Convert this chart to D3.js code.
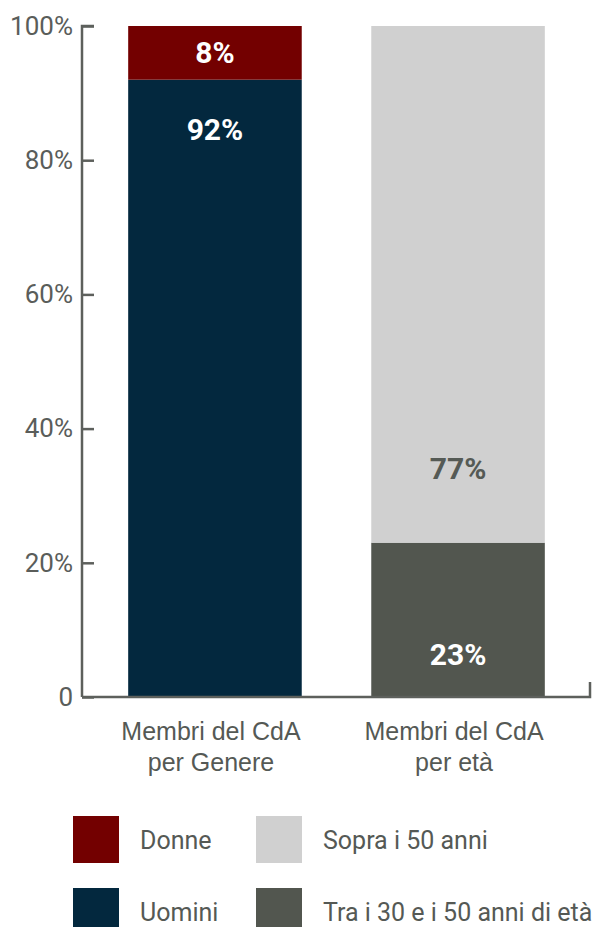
<!DOCTYPE html>
<html>
<head>
<meta charset="utf-8">
<script src="https://cdn.jsdelivr.net/npm/d3@7"></script>
<style>
  html, body { margin: 0; padding: 0; background: #fff; }
  svg { display: block; font-family: Roboto, "Noto Sans", sans-serif; }
</style>
</head>
<body>
<svg id="chart" width="597" height="927"></svg>
<script>
// ---- data ----
const categories = [["Membri del CdA", "per Genere"], ["Membri del CdA", "per età"]];
const categoryKeys = ["genere", "eta"];
const seriesNames = ["Uomini", "Donne", "Tra i 30 e i 50 anni di età", "Sopra i 50 anni"];
const seriesColors = ["#03283e", "#730000", "#52564f", "#d0d0d0"];
const seriesCategory = ["genere", "genere", "eta", "eta"];
const seriesValues = [92, 8, 23, 77];
const labelColors = ["#ffffff", "#ffffff", "#ffffff", "#555a55"];
const yTicks = [0, 20, 40, 60, 80, 100];
const yTickLabels = ["0", "20%", "40%", "60%", "80%", "100%"];
const legendOrder = [1, 3, 0, 2]; // Donne, Sopra, Uomini, Tra

// ---- layout ----
const svg = d3.select("#chart");
const axisColor = "#5d605c";
const mLeft = 82, mRight = 591, mTop = 26, mBottom = 697;

const x = d3.scaleBand().domain(categoryKeys).range([mLeft, mRight])
  .paddingInner(0.286).paddingOuter(0.19);
const y = d3.scaleLinear().domain([0, 100]).range([mBottom, mTop]);

// stack per category
const segs = [];
const acc = {};
seriesValues.forEach((v, i) => {
  const c = seriesCategory[i];
  const y0 = acc[c] || 0;
  acc[c] = y0 + v;
  segs.push({ i, c, v, y0, y1: y0 + v });
});

svg.append("g").selectAll("rect").data(segs).join("rect")
  .attr("x", d => x(d.c))
  .attr("width", x.bandwidth())
  .attr("y", d => y(d.y1))
  .attr("height", d => y(d.y0) - y(d.y1))
  .attr("fill", d => seriesColors[d.i]);

// label placement (offset in px from segment edge)
const labelPlace = [
  { from: "top", off: 50 },     // 92%
  { from: "mid", off: 0 },      // 8%
  { from: "bottom", off: -43 }, // 23%
  { from: "bottom", off: -74 }  // 77%
];
svg.append("g").selectAll("text").data(segs).join("text")
  .attr("x", d => x(d.c) + x.bandwidth() / 2)
  .attr("y", d => {
    const p = labelPlace[d.i];
    if (p.from === "top") return y(d.y1) + p.off;
    if (p.from === "bottom") return y(d.y0) + p.off;
    return (y(d.y0) + y(d.y1)) / 2;
  })
  .attr("dy", "0.35em")
  .attr("text-anchor", "middle")
  .attr("font-size", 30)
  .attr("font-weight", 700)
  .attr("fill", d => labelColors[d.i])
  .text(d => d.v + "%");

// y axis
const yAxis = d3.axisRight(y).tickValues(yTicks).tickSize(12).tickSizeOuter(0)
  .tickFormat((d, i) => yTickLabels[i]);
const gy = svg.append("g").attr("transform", `translate(${mLeft},0)`).call(yAxis);
gy.selectAll("line, path").attr("stroke", axisColor).attr("stroke-width", 2.5);
gy.selectAll("text").attr("x", -9).attr("text-anchor", "end")
  .attr("font-size", 26).attr("fill", "#5a5d5a").attr("font-family", "Roboto");
gy.select(".domain").attr("d", `M12,${mTop}H0V${mBottom}`);

// x axis
const xAxis = d3.axisBottom(x).tickSize(0).tickSizeOuter(-15).tickFormat("");
const gx = svg.append("g").attr("transform", `translate(0,${mBottom})`).call(xAxis);
gx.select(".domain").attr("stroke", axisColor).attr("stroke-width", 2.5)
  .attr("d", `M${mLeft},0H${mRight - 1}V-15`).attr("fill", "none");
gx.selectAll(".tick").each(function (d, i) {
  const t = d3.select(this).append("text")
    .attr("text-anchor", "middle").attr("fill", "#555955")
    .attr("font-size", 25).attr("x", -4);
  categories[i].forEach((line, j) => {
    t.append("tspan").attr("x", -4).attr("y", 43 + j * 31).text(line);
  });
});

// legend
const legendPos = [[73, 816], [256, 816], [73, 888], [256, 888]];
const lg = svg.append("g").selectAll("g").data(legendOrder).join("g")
  .attr("transform", (d, k) => `translate(${legendPos[k][0]},${legendPos[k][1]})`);
lg.append("rect").attr("width", 46).attr("height", 47).attr("fill", d => seriesColors[d]);
lg.append("text").attr("x", 67).attr("y", 24).attr("dy", "0.35em")
  .attr("font-size", 25).attr("fill", "#555955").text(d => seriesNames[d]);
</script>
</body>
</html>
